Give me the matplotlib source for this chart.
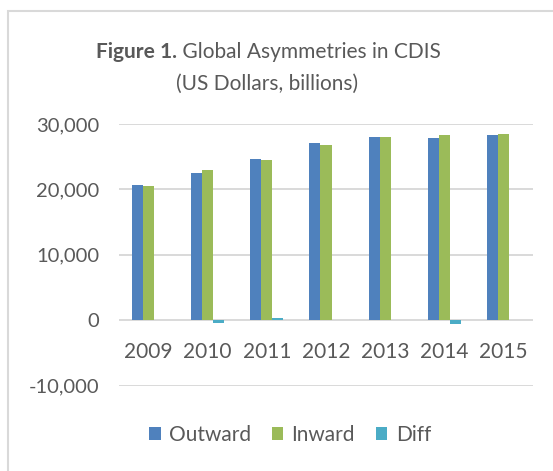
import matplotlib.pyplot as plt
import numpy as np
from matplotlib.patches import Rectangle

years = ['2009', '2010', '2011', '2012', '2013', '2014', '2015']
outward = [20720, 22560, 24700, 27060, 28070, 27820, 28280]
inward = [20570, 22920, 24500, 26850, 28020, 28280, 28430]
diff = [0, -350, 300, 0, 0, -600, 0]
y_ticks = [-10000, 0, 10000, 20000, 30000]
y_labels = ['-10,000', '0', '10,000', '20,000', '30,000']

text_col = '#595959'
grid_col = '#D9D9D9'
plt.rcParams['font.family'] = ['Lato', 'DejaVu Sans']

fig = plt.figure(figsize=(5.53, 4.71), dpi=100)
ax = fig.add_axes([119 / 553, 85.3 / 471, 414 / 553, 261.7 / 471])

# outer frame of the chart box
fig.patches.append(Rectangle((8 / 553, -0.05), 1.1, (471 - 11) / 471 + 0.05,
                             transform=fig.transFigure, fill=False,
                             edgecolor=grid_col, linewidth=1.5))

x = np.arange(len(years))
w = 0.186
ax.bar(x - w, outward, w, color='#4F81BD', label='Outward', zorder=3)
ax.bar(x, inward, w, color='#9BBB59', label='Inward', zorder=3)
ax.bar(x + w, diff, w, color='#4BACC6', label='Diff', zorder=3)

ax.set_xlim(-0.5, len(years) - 0.5)
ax.set_ylim(-10000, 30000)
ax.set_yticks(y_ticks)
ax.set_yticklabels(y_labels, fontsize=14.5, color=text_col)
ax.tick_params(axis='y', length=0, pad=14)
ax.set_xticks([])
for s in ax.spines.values():
    s.set_visible(False)
ax.grid(axis='y', color=grid_col, linewidth=1.4, zorder=0)

# category labels sit just under the zero line
for i, yr in enumerate(years):
    ax.text(i, -4850, yr, ha='center', va='center', fontsize=15, color=text_col)

# title: bold lead-in + normal text, centred as one line
ty = 1 - 52 / 471
t_bold = fig.text(0, ty, 'Figure 1.', ha='left', va='center',
                  fontsize=15, fontweight='bold', color=text_col)
t_norm = fig.text(0, ty, ' Global Asymmetries in CDIS', ha='left', va='center',
                  fontsize=15, color=text_col)
r = fig.canvas.get_renderer()
wb = t_bold.get_window_extent(r).width
wn = t_norm.get_window_extent(r).width
x0 = 268 - (wb + wn) / 2
t_bold.set_x(x0 / 553)
t_norm.set_x((x0 + wb) / 553)
fig.text(267 / 553, 1 - 84 / 471, '(US Dollars, billions)', ha='center', va='center',
         fontsize=15, color=text_col)

leg = ax.legend(loc='center', bbox_to_anchor=(290 / 553, 1 - 435 / 471),
                bbox_transform=fig.transFigure, ncol=3, frameon=False,
                fontsize=15, handlelength=0.55, handleheight=0.55,
                handletextpad=0.4, columnspacing=1.0)
for t in leg.get_texts():
    t.set_color(text_col)

fig.savefig('out.png', dpi=100)
